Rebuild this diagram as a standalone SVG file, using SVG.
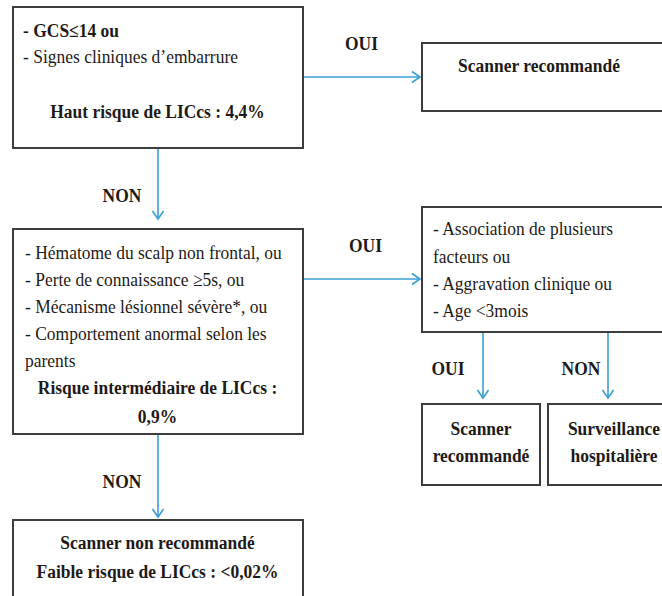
<svg xmlns="http://www.w3.org/2000/svg" width="662" height="596" viewBox="0 0 662 596" font-family="'Liberation Serif', 'Times New Roman', 'DejaVu Serif', serif">
<style>
.box{fill:#fff;stroke:#3d3d3d;stroke-width:2}
text{font-family:'Liberation Serif','Times New Roman','DejaVu Serif',serif;font-size:19px;fill:#1e1a17}
.b{font-weight:bold}
.c{text-anchor:middle}
.conn{stroke:#3a9fd2;stroke-width:1.6;fill:none}
</style>
<defs>
<marker id="ah" markerUnits="userSpaceOnUse" markerWidth="14" markerHeight="14" refX="9" refY="7" orient="auto">
<path d="M1,1.5 L9,7 L1,12.5" fill="none" stroke="#3a9fd2" stroke-width="1.6"/>
</marker>
</defs>
<rect width="662" height="596" fill="#fff"/>
<g id="connectors">
<path class="conn" d="M303,77 H420" marker-end="url(#ah)"/>
<path class="conn" d="M158,148 V219" marker-end="url(#ah)"/>
<path class="conn" d="M303,279 H420" marker-end="url(#ah)"/>
<path class="conn" d="M158,434 V517" marker-end="url(#ah)"/>
<path class="conn" d="M483,332 V398" marker-end="url(#ah)"/>
<path class="conn" d="M608,332 V398" marker-end="url(#ah)"/>
<text class="b c" transform="translate(361.5 50) scale(0.92 1)">OUI</text>
<text class="b c" transform="translate(122 202) scale(0.92 1)">NON</text>
<text class="b c" transform="translate(365.5 252) scale(0.92 1)">OUI</text>
<text class="b c" transform="translate(122 488) scale(0.92 1)">NON</text>
<text class="b c" transform="translate(448 375) scale(0.92 1)">OUI</text>
<text class="b c" transform="translate(581 375) scale(0.92 1)">NON</text>
</g>
<g id="n1">
<rect class="box" x="13" y="7" width="290" height="141"/>
<text class="b" transform="translate(23 37) scale(0.92 1)">- GCS≤14 ou</text>
<text transform="translate(23 63) scale(0.92 1)">- Signes cliniques d’embarrure</text>
<text class="b c" transform="translate(157.5 118) scale(0.92 1)">Haut risque de LICcs : 4,4%</text>
</g>
<g id="n2">
<rect class="box" x="422" y="43" width="250" height="68"/>
<text class="b c" transform="translate(539 72) scale(0.92 1)">Scanner recommandé</text>
</g>
<g id="n3">
<rect class="box" x="13" y="229" width="290" height="205"/>
<text transform="translate(25 259) scale(0.92 1)">- Hématome du scalp non frontal, ou</text>
<text transform="translate(25 286) scale(0.92 1)">- Perte de connaissance ≥5s, ou</text>
<text transform="translate(25 313) scale(0.92 1)">- Mécanisme lésionnel sévère*, ou</text>
<text transform="translate(25 340) scale(0.92 1)">- Comportement anormal selon les</text>
<text transform="translate(25 367) scale(0.92 1)">parents</text>
<text class="b c" transform="translate(157.5 394) scale(0.92 1)">Risque intermédiaire de LICcs :</text>
<text class="b c" transform="translate(157.5 423) scale(0.92 1)">0,9%</text>
</g>
<g id="n4">
<rect class="box" x="422" y="207" width="250" height="125"/>
<text transform="translate(433 235) scale(0.92 1)">- Association de plusieurs</text>
<text transform="translate(433 263) scale(0.92 1)">facteurs ou</text>
<text transform="translate(433 290) scale(0.92 1)">- Aggravation clinique ou</text>
<text transform="translate(433 317) scale(0.92 1)">- Age &lt;3mois</text>
</g>
<g id="n5">
<rect class="box" x="422" y="404" width="118" height="81"/>
<text class="b c" transform="translate(481 435) scale(0.92 1)">Scanner</text>
<text class="b c" transform="translate(481 462) scale(0.92 1)">recommandé</text>
</g>
<g id="n6">
<rect class="box" x="548" y="404" width="124" height="81"/>
<text class="b c" transform="translate(614 435) scale(0.92 1)">Surveillance</text>
<text class="b c" transform="translate(614 462) scale(0.92 1)">hospitalière</text>
</g>
<g id="n7">
<rect class="box" x="13" y="520" width="290" height="90"/>
<text class="b c" transform="translate(157.5 549) scale(0.92 1)">Scanner non recommandé</text>
<text class="b c" transform="translate(157.5 578) scale(0.92 1)">Faible risque de LICcs : &lt;0,02%</text>
</g>
</svg>
